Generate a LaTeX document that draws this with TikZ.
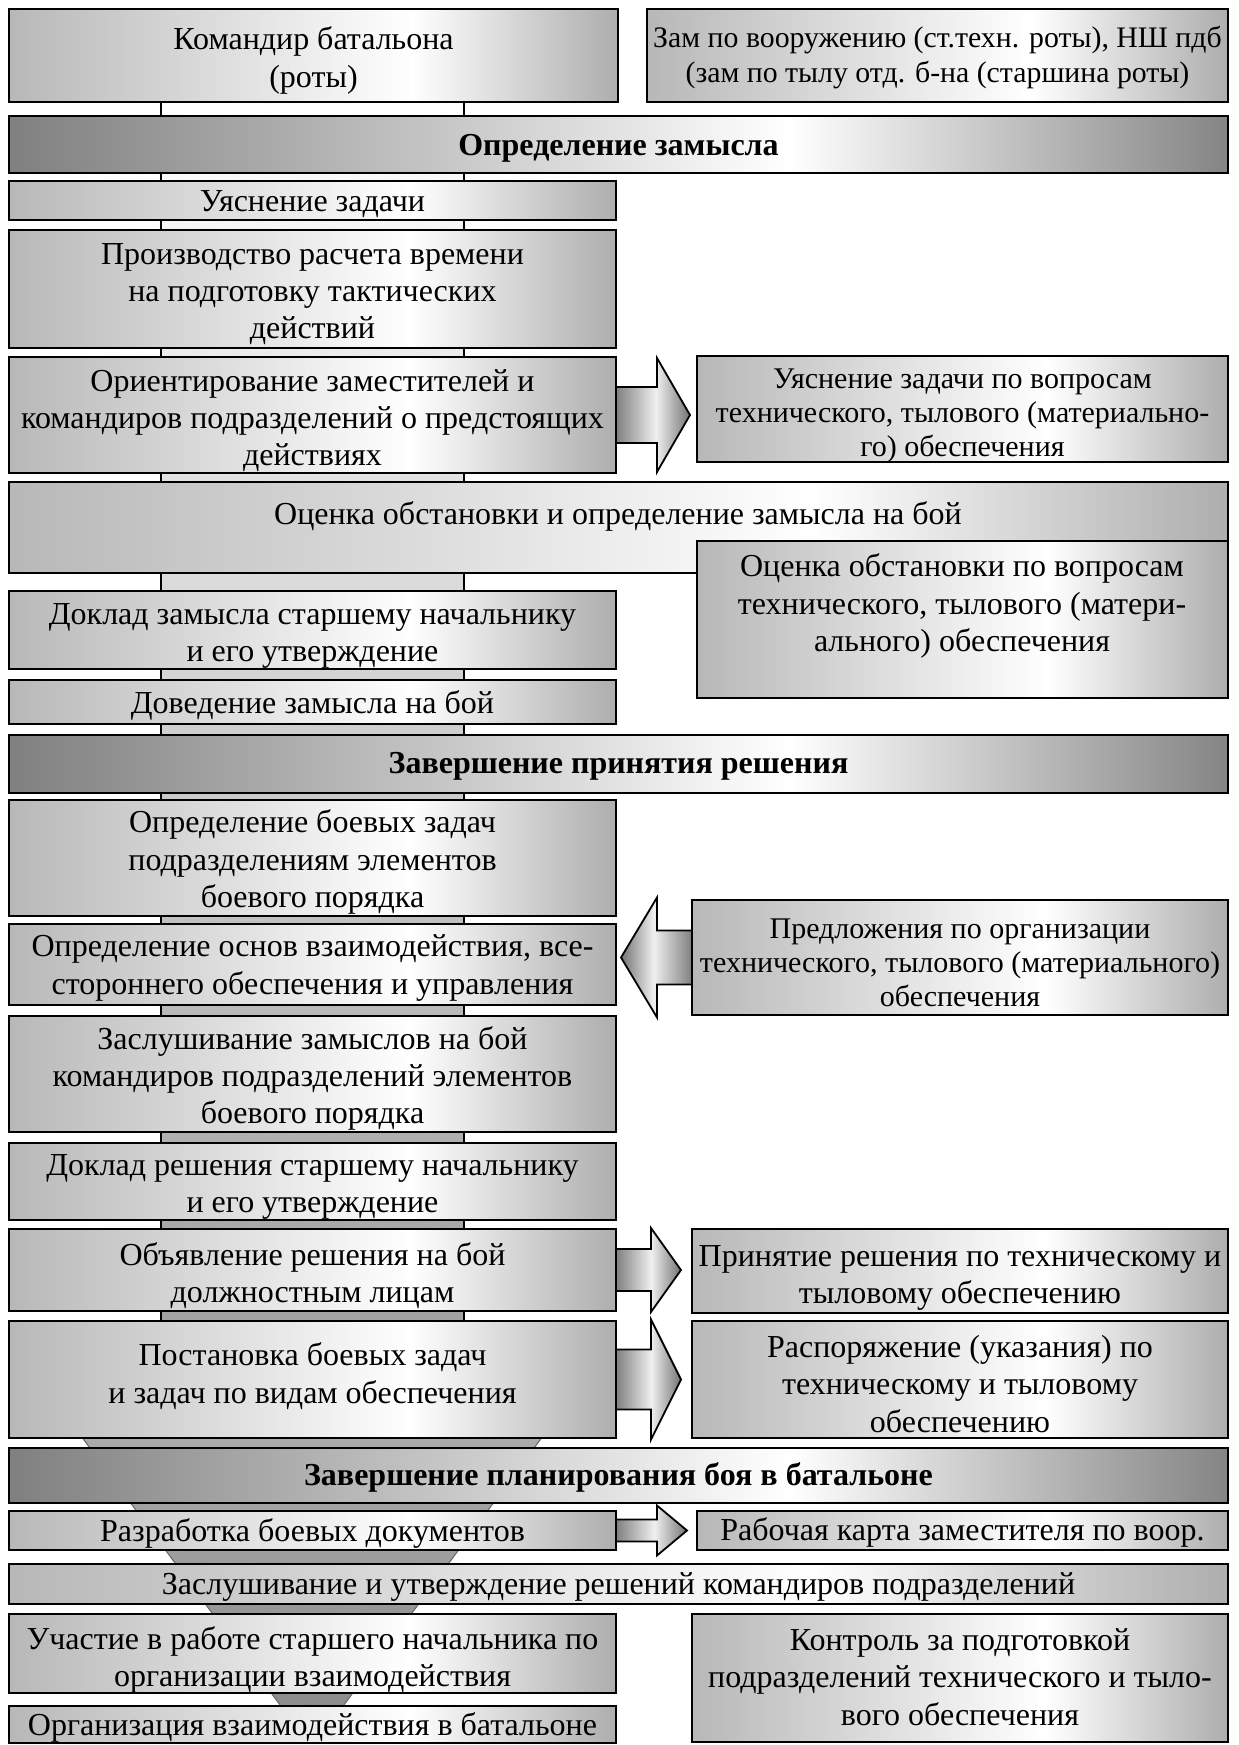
\documentclass[tikz,border=0pt]{standalone}
\usepackage{fontspec}
\setmainfont{Liberation Serif}
\usetikzlibrary{calc,shadows}
\pgfdeclarehorizontalshading{boxshade}{100bp}{color(0bp)=(black!28); color(25bp)=(black!28); color(58bp)=(white); color(75bp)=(black!32); color(100bp)=(black!32)}
\pgfdeclarehorizontalshading{hdrshade}{100bp}{color(0bp)=(black!50); color(25bp)=(black!50); color(57bp)=(white); color(75bp)=(black!48); color(100bp)=(black!48)}
\pgfdeclarehorizontalshading{arrowshade}{100bp}{color(0bp)=(black!50); color(25bp)=(black!50); color(52bp)=(black!6); color(75bp)=(black!55); color(100bp)=(black!55)}
\tikzset{
  box/.style={draw=black, line width=0.9pt, shade, shading=boxshade,
    inner sep=0pt, outer sep=0pt,
    drop shadow={shadow xshift=0.7pt, shadow yshift=-0.7pt, fill=black!55, opacity=1}},
  hdr/.style={box, shading=hdrshade},
  tx/.style={align=center, inner sep=0pt},
  fn/.style={font=\fontsize{16}{18.6}\selectfont},
  fb/.style={font=\fontsize{16}{18.6}\selectfont\bfseries},
  fs/.style={font=\fontsize{15}{17}\selectfont},
  fz/.style={font=\fontsize{14.9}{17.3}\selectfont},
  arr/.style={draw=black, line width=0.9pt, shade, shading=arrowshade},
}
% \bx{shape style}{text style}{name}{x1}{y1}{x2}{y2}{text}
\newcommand{\bx}[8]{\node[#1, anchor=north west, minimum width={(#6-#4)*0.5pt}, minimum height={(#7-#5)*0.5pt}] (#3) at (#4,#5) {};
  \node[tx, #2] (#3t) at (#3.center) {#8};}
% right-pointing block arrow: src, dst, head half, shaft half, head length, gap
\newcommand{\rarr}[6]{\path[arr] let \p1=(#1.east), \p2=(#2.west) in
  (\x1,\y1+#4) -- (\x2-#6-#5,\y1+#4) -- (\x2-#6-#5,\y1+#3) -- (\x2-#6,\y1)
  -- (\x2-#6-#5,\y1-#3) -- (\x2-#6-#5,\y1-#4) -- (\x1,\y1-#4) -- cycle;}
\newcommand{\larr}[6]{\path[arr, shading angle=180] let \p1=(#1.west), \p2=(#2.east) in
  (\x1,\y1+#4) -- (\x2+#6+#5,\y1+#4) -- (\x2+#6+#5,\y1+#3) -- (\x2+#6,\y1)
  -- (\x2+#6+#5,\y1-#3) -- (\x2+#6+#5,\y1-#4) -- (\x1,\y1-#4) -- cycle;}
\begin{document}
\begin{tikzpicture}[x=0.5pt,y=-0.5pt]
\useasboundingbox (0,0) rectangle (1238,1745);
\fill[white] (0,0) rectangle (1238,1745);
% central band
\coordinate (bandTL) at (161,102);
\coordinate (bandBR) at (464,1435);
\shade[top color=white, middle color=black!12, bottom color=black!40] (bandTL) rectangle (bandBR);
\draw[line width=0.8pt] (bandTL) -- (bandTL |- bandBR) (bandTL -| bandBR) -- (bandBR);
% funnel
\coordinate (fA) at (76.6,1430);
\coordinate (fB) at (547.4,1430);
\coordinate (fC) at (340.2,1710);
\coordinate (fD) at (283.8,1710);
\shade[top color=black!33, bottom color=black!45, draw=black!60, line width=0.5pt] (fA) -- (fB) -- (fC) -- (fD) -- cycle;
% boxes
\bx{box}{fn,yshift=-2.5pt}{kb}{9}{9}{618}{102}{Командир батальона\\(роты)}
\bx{box}{fz,yshift=-1.1pt}{zam}{647}{9}{1228}{102}{Зам по вооружению (ст.техн. роты), НШ пдб\\(зам по тылу отд. б-на (старшина роты)}
\bx{hdr}{fb,yshift=-1.7pt}{h1}{9}{116}{1228}{173}{Определение замысла}
\bx{box}{fn,yshift=-2pt}{uz}{9}{181}{616}{220}{Уяснение задачи}
\bx{box}{fn,yshift=-2.5pt}{pr}{9}{230}{616}{348}{Производство расчета времени\\на подготовку тактических\\действий}
\bx{box}{fn,yshift=-2.8pt}{or}{9}{357}{616}{473}{Ориентирование заместителей и\\командиров подразделений о предстоящих\\действиях}
\bx{box}{fs,yshift=-3.3pt}{uzr}{697}{356}{1228}{462}{Уяснение задачи по вопросам\\технического, тылового (материально-\\го) обеспечения}
\node[box, anchor=north west, minimum width={(1228-9)*0.5pt}, minimum height={(573-482)*0.5pt}] (oc) at (9,482) {};
\node[tx, fn] (oct) at (618,516) {Оценка обстановки и определение замысла на бой};
\node[box, anchor=north west, minimum width={(1228-697)*0.5pt}, minimum height={(698-541)*0.5pt}] (ocr) at (697,541) {};
\node[tx, fn] (ocrt) at (962,606) {Оценка обстановки по вопросам\\технического, тылового (матери-\\ального) обеспечения};
\bx{box}{fn,yshift=-2.8pt}{dz}{9}{591}{616}{669}{Доклад замысла старшему начальнику\\и его утверждение}
\bx{box}{fn,yshift=-1.7pt}{dov}{9}{680}{616}{724}{Доведение замысла на бой}
\bx{hdr}{fb,yshift=-1pt}{h2}{9}{735}{1228}{793}{Завершение принятия решения}
\bx{box}{fn,yshift=-2pt}{obz}{9}{800}{616}{916}{Определение боевых задач\\подразделениям элементов\\боевого порядка}
\bx{box}{fn,yshift=-1.7pt}{oos}{9}{924}{616}{1005}{Определение основ взаимодействия, все-\\стороннего обеспечения и управления}
\bx{box}{fs,yshift=-2.5pt}{pred}{692}{900}{1228}{1015}{Предложения по организации\\технического, тылового (материального)\\обеспечения}
\bx{box}{fn,yshift=-2.2pt}{zz}{9}{1016}{616}{1132}{Заслушивание замыслов на бой\\командиров подразделений элементов\\боевого порядка}
\bx{box}{fn,yshift=-2.8pt}{dr}{9}{1143}{616}{1220}{Доклад решения старшему начальнику\\и его утверждение}
\bx{box}{fn,yshift=-2.8pt}{ob}{9}{1229}{616}{1311}{Объявление решения на бой\\должностным лицам}
\bx{box}{fn,yshift=-3.3pt}{prin}{692}{1229}{1228}{1313}{Принятие решения по техническому и\\тыловому обеспечению}
\bx{box}{fn,yshift=1.7pt}{post}{9}{1321}{616}{1438}{Постановка боевых задач\\и задач по видам обеспечения}
\bx{box}{fn,yshift=-2.2pt}{rasp}{692}{1321}{1228}{1438}{Распоряжение (указания) по\\техническому и тыловому\\обеспечению}
\bx{hdr}{fb,yshift=-1pt}{h3}{9}{1448}{1228}{1503}{Завершение планирования боя в батальоне}
\bx{box}{fn,yshift=-1.7pt}{razr}{9}{1511}{616}{1550}{Разработка боевых документов}
\bx{box}{fn,yshift=-1.1pt}{rk}{697}{1511}{1228}{1550}{Рабочая карта заместителя по воор.}
\bx{box}{fn,yshift=-1.7pt}{zu}{9}{1564}{1228}{1604}{Заслушивание и утверждение решений командиров подразделений}
\bx{box}{fn,yshift=-3.3pt}{uch}{9}{1614}{616}{1693}{Участие в работе старшего начальника по\\организации взаимодействия}
\bx{box}{fn,yshift=-1.7pt}{org}{9}{1706}{616}{1743}{Организация взаимодействия в батальоне}
\bx{box}{fn,yshift=0.5pt}{kon}{692}{1614}{1228}{1742}{Контроль за подготовкой\\подразделений технического и тыло-\\вого обеспечения}
% block arrows
\rarr{or}{uzr}{28.5pt}{14pt}{16.5pt}{3.5pt}
\larr{pred}{oos}{30pt}{13.5pt}{18pt}{2.5pt}
\rarr{ob}{prin}{21pt}{10.5pt}{15pt}{5.5pt}
\rarr{post}{rasp}{30pt}{15pt}{15pt}{5.5pt}
\rarr{razr}{rk}{12.5pt}{5.5pt}{15pt}{5pt}
\end{tikzpicture}
\end{document}
